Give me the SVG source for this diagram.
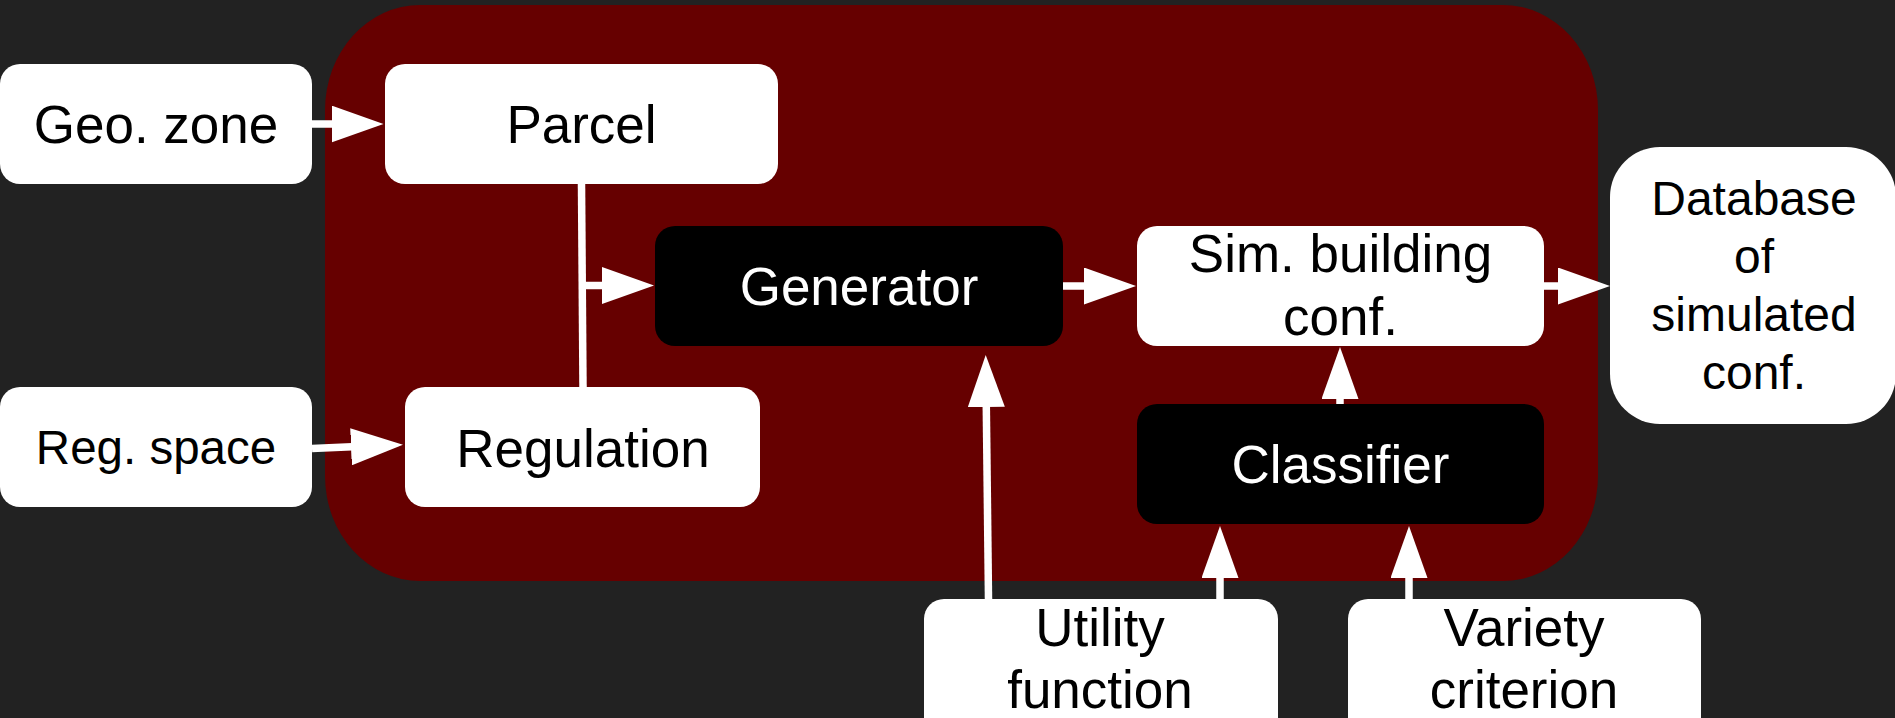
<svg xmlns="http://www.w3.org/2000/svg" width="1895" height="718" viewBox="0 0 1895 718">
  <defs>
    <marker id="head" markerUnits="userSpaceOnUse" viewBox="0 0 52 37" markerWidth="52" markerHeight="37" refX="1" refY="18.5" orient="auto">
      <path d="M0,0 L52,18.5 L0,37 Z" fill="#ffffff"/>
    </marker>
    <style>
      .light { fill: #ffffff; }
      .dark { fill: #000000; }
      .lbl { font-family: "Liberation Sans", Arial, sans-serif; font-size: 53px; text-anchor: middle; fill: #000000; }
      .lbl.inv { fill: #ffffff; }
      .lbl.sm { font-size: 48px; }
      .wire { stroke: #ffffff; stroke-width: 7.5; fill: none; }
      .arrow { marker-end: url(#head); }
    </style>
  </defs>

  <!-- backdrop and process frame -->
  <rect x="0" y="0" width="1895" height="718" fill="#222222"/>
  <rect id="process-frame" x="325" y="5" width="1273" height="576" rx="95" ry="105" fill="#660000"/>

  <!-- connectors -->
  <g id="connectors">
    <line class="wire arrow" x1="312" y1="124" x2="332.5" y2="124"/>
    <line class="wire" x1="581.5" y1="184" x2="583" y2="387"/>
    <line class="wire arrow" x1="582" y1="285.5" x2="603" y2="285.5"/>
    <line class="wire arrow" x1="312" y1="448.5" x2="352" y2="446.8"/>
    <line class="wire arrow" x1="1063" y1="286" x2="1085" y2="286"/>
    <line class="wire arrow" x1="1544" y1="286" x2="1559" y2="286"/>
    <line class="wire arrow" x1="1340" y1="404" x2="1340" y2="398"/>
    <line class="wire arrow" x1="988.5" y1="599" x2="986.3" y2="406"/>
    <line class="wire arrow" x1="1220" y1="599" x2="1220" y2="577"/>
    <line class="wire arrow" x1="1409" y1="599" x2="1409" y2="577"/>
  </g>

  <g id="geo-zone">
    <rect class="light" x="0" y="64" width="312" height="120" rx="20"/>
    <text class="lbl" x="156" y="143">Geo. zone</text>
  </g>

  <g id="parcel">
    <rect class="light" x="385" y="64" width="393" height="120" rx="20"/>
    <text class="lbl" x="581.5" y="143">Parcel</text>
  </g>

  <g id="reg-space">
    <rect class="light" x="0" y="387" width="312" height="120" rx="20"/>
    <text class="lbl sm" x="156" y="463.5" style="font-size:47.5px">Reg. space</text>
  </g>

  <g id="regulation">
    <rect class="light" x="405" y="387" width="355" height="120" rx="20"/>
    <text class="lbl" x="583" y="466.5">Regulation</text>
  </g>

  <g id="generator">
    <rect class="dark" x="655" y="226" width="408" height="120" rx="20"/>
    <text class="lbl inv" x="859" y="305">Generator</text>
  </g>

  <g id="sim-building-conf">
    <rect class="light" x="1137" y="226" width="407" height="120" rx="20"/>
    <text class="lbl" x="1340.5" y="272">Sim. building</text>
    <text class="lbl" x="1340.5" y="335">conf.</text>
  </g>

  <g id="classifier">
    <rect class="dark" x="1137" y="404" width="407" height="120" rx="20"/>
    <text class="lbl inv" x="1340.5" y="483">Classifier</text>
  </g>

  <g id="database">
    <rect class="light" x="1610" y="147" width="286" height="277" rx="50"/>
    <text class="lbl sm" x="1754" y="215">Database</text>
    <text class="lbl sm" x="1754" y="273">of</text>
    <text class="lbl sm" x="1754" y="331">simulated</text>
    <text class="lbl sm" x="1754" y="389">conf.</text>
  </g>

  <g id="utility-function">
    <rect class="light" x="924" y="599" width="354" height="150" rx="20"/>
    <text class="lbl" x="1100" y="646">Utility</text>
    <text class="lbl" x="1100" y="708">function</text>
  </g>

  <g id="variety-criterion">
    <rect class="light" x="1348" y="599" width="353" height="150" rx="20"/>
    <text class="lbl" x="1524" y="646">Variety</text>
    <text class="lbl" x="1524" y="708">criterion</text>
  </g>
</svg>
